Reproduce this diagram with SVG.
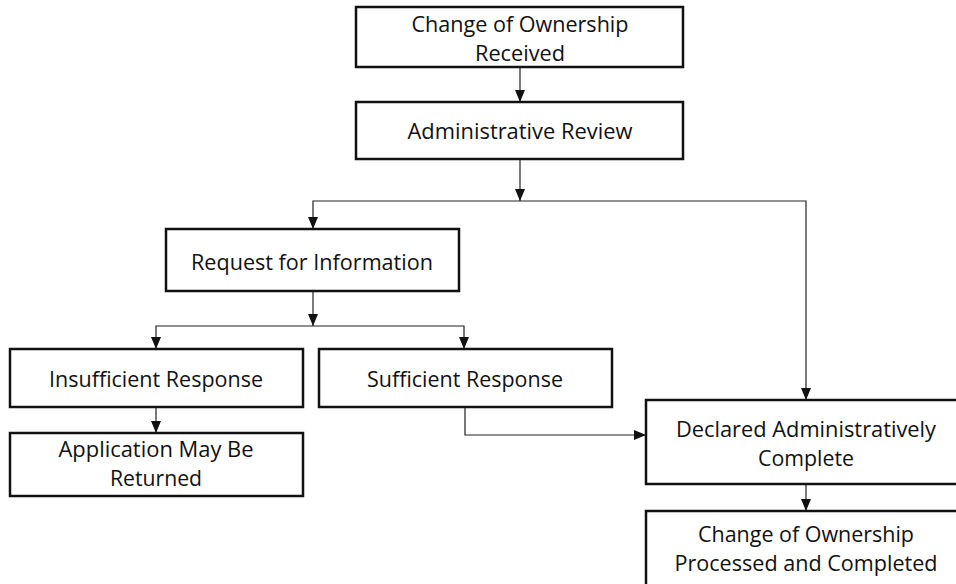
<svg xmlns="http://www.w3.org/2000/svg" width="956" height="584" viewBox="0 0 956 584">
<style>
.box{fill:#fff;stroke:#111;stroke-width:2.5}
.t{font-family:"Open Sans","Noto Sans",sans-serif;font-size:22px;fill:#111;text-anchor:middle}
.c{fill:none;stroke:#222;stroke-width:1.2}
</style>
<defs>
<marker id="ah" markerUnits="userSpaceOnUse" markerWidth="12" markerHeight="10" refX="12" refY="5" orient="auto">
<path d="M0,0 L12,5 L0,10 Z" fill="#111"/>
</marker>
</defs>
<rect width="956" height="584" fill="#fff"/>
<g id="connectors">
<path class="c" d="M520,67 V102" marker-end="url(#ah)"/>
<path class="c" d="M520,159 V201" marker-end="url(#ah)"/>
<path class="c" d="M520,201 H313 V229" marker-end="url(#ah)"/>
<path class="c" d="M520,201 H806 V400" marker-end="url(#ah)"/>
<path class="c" d="M313,291 V326" marker-end="url(#ah)"/>
<path class="c" d="M313,326 H156 V349" marker-end="url(#ah)"/>
<path class="c" d="M313,326 H464 V349" marker-end="url(#ah)"/>
<path class="c" d="M156,407 V433" marker-end="url(#ah)"/>
<path class="c" d="M465,407 V435 H646" marker-end="url(#ah)"/>
<path class="c" d="M806,484 V511" marker-end="url(#ah)"/>
</g>
<g id="n1">
<rect class="box" x="356" y="7" width="327" height="60"/>
<text class="t" x="520" y="32" textLength="217" lengthAdjust="spacingAndGlyphs">Change of Ownership</text>
<text class="t" x="520" y="61" textLength="90" lengthAdjust="spacingAndGlyphs">Received</text>
</g>
<g id="n2">
<rect class="box" x="356" y="102" width="327" height="57"/>
<text class="t" x="520" y="139" textLength="225" lengthAdjust="spacingAndGlyphs">Administrative Review</text>
</g>
<g id="n3">
<rect class="box" x="166" y="229" width="293" height="62"/>
<text class="t" x="312" y="270" textLength="242" lengthAdjust="spacingAndGlyphs">Request for Information</text>
</g>
<g id="n4">
<rect class="box" x="10" y="349" width="293" height="58"/>
<text class="t" x="156" y="387" textLength="214" lengthAdjust="spacingAndGlyphs">Insufficient Response</text>
</g>
<g id="n5">
<rect class="box" x="319" y="349" width="293" height="58"/>
<text class="t" x="465" y="387" textLength="196" lengthAdjust="spacingAndGlyphs">Sufficient Response</text>
</g>
<g id="n6">
<rect class="box" x="10" y="433" width="293" height="63"/>
<text class="t" x="156" y="457" textLength="195" lengthAdjust="spacingAndGlyphs">Application May Be</text>
<text class="t" x="156" y="486" textLength="92" lengthAdjust="spacingAndGlyphs">Returned</text>
</g>
<g id="n7">
<rect class="box" x="646" y="400" width="320" height="84"/>
<text class="t" x="806" y="437" textLength="260" lengthAdjust="spacingAndGlyphs">Declared Administratively</text>
<text class="t" x="806" y="466" textLength="96" lengthAdjust="spacingAndGlyphs">Complete</text>
</g>
<g id="n8">
<rect class="box" x="646" y="511" width="320" height="75"/>
<text class="t" x="806" y="542" textLength="216" lengthAdjust="spacingAndGlyphs">Change of Ownership</text>
<text class="t" x="806" y="571" textLength="263" lengthAdjust="spacingAndGlyphs">Processed and Completed</text>
</g>
</svg>
